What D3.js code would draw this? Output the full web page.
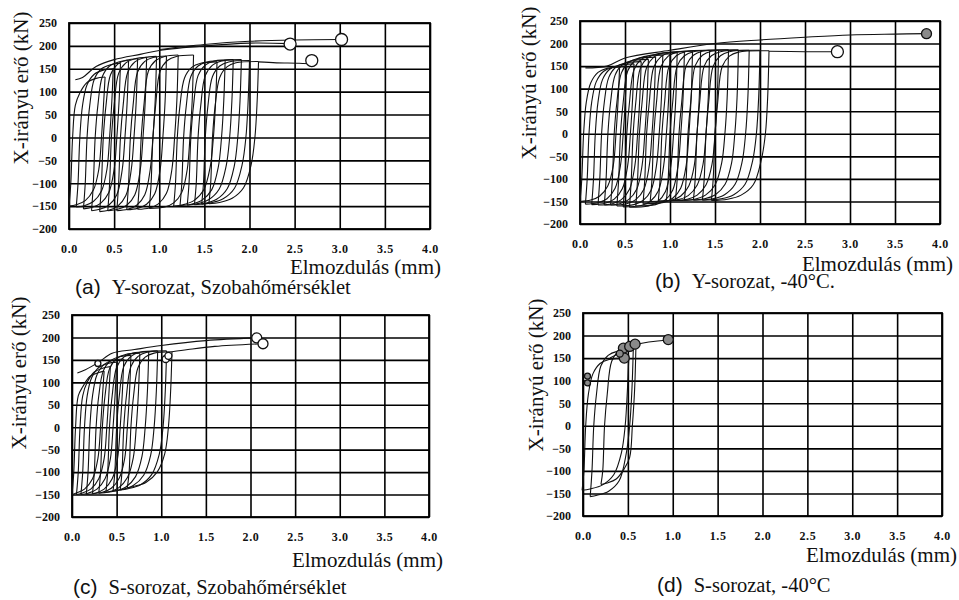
<!DOCTYPE html>
<html>
<head>
<meta charset="utf-8">
<script src="https://cdn.jsdelivr.net/npm/d3@7"></script>
<style>
  body { margin: 0; background: #fff; }
  svg { display: block; }
</style>
</head>
<body>
<div id="wrapper"></div>
<script>
// ---- data ----
const xTickValues = [0, 0.5, 1, 1.5, 2, 2.5, 3, 3.5, 4];
const xTickLabels = ["0.0", "0.5", "1.0", "1.5", "2.0", "2.5", "3.0", "3.5", "4.0"];
const yTickValues = [-200, -150, -100, -50, 0, 50, 100, 150, 200, 250];

const yTitle = "X-irányú erő (kN)";
const xTitles = ["Elmozdulás (mm)", "Elmozdulás (mm)", "Elmozdulás (mm)", "Elmozdulás (mm)"];
const captionLetters = ["(a)", "(b)", "(c)", "(d)"];
const captionTexts = ["Y-sorozat, Szobahőmérséklet", "Y-sorozat, -40°C.", "S-sorozat, Szobahőmérséklet", "S-sorozat, -40°C"];

// loops: [loading zero-crossing, unloading zero-crossing, peak force, min force, corner roundness]
const loopsA = [
  [0.04, 0.36, 132, -150, 1], [0.12, 0.45, 150, -152, 1], [0.20, 0.53, 162, -156, 1],
  [0.29, 0.62, 168, -160, 1], [0.38, 0.72, 172, -162, 1], [0.47, 0.82, 175, -160, 1],
  [0.57, 0.93, 177, -160, 1], [0.68, 1.04, 178, -158, 1], [0.80, 1.17, 180, -157, 1],
  [0.93, 1.34, 180, -155, 1],
  [1.20, 1.60, 165, -150, 1.2], [1.27, 1.69, 168, -149, 1.2], [1.35, 1.78, 170, -148, 1.3],
  [1.43, 1.87, 170, -147, 1.3], [1.51, 1.96, 168, -146, 1.4], [1.59, 2.06, 166, -145, 1.4]
];
const loopsB = [
  [0.04, 0.40, 148, -150, 1], [0.10, 0.48, 150, -156, 1], [0.17, 0.56, 155, -157, 1],
  [0.24, 0.64, 160, -158, 1], [0.31, 0.72, 165, -158, 1], [0.38, 0.80, 170, -158, 1],
  [0.45, 0.88, 174, -160, 1], [0.52, 0.96, 177, -162, 1], [0.59, 1.04, 180, -163, 1],
  [0.66, 1.12, 182, -160, 1], [0.74, 1.21, 183, -155, 1], [0.82, 1.30, 184, -150, 1],
  [0.91, 1.40, 185, -149, 1.1], [1.00, 1.50, 185, -148, 1.1], [1.10, 1.61, 186, -148, 1.2],
  [1.20, 1.72, 186, -147, 1.2], [1.30, 1.84, 185, -147, 1.3], [1.40, 1.96, 185, -147, 1.4],
  [1.50, 2.06, 184, -148, 1.5]
];
const loopsC = [
  [0.04, 0.32, 125, -150, 1], [0.09, 0.39, 135, -150, 1], [0.14, 0.46, 145, -150, 1],
  [0.20, 0.54, 152, -150, 1], [0.27, 0.62, 160, -148, 1], [0.34, 0.72, 165, -147, 1.1],
  [0.42, 0.82, 168, -145, 1.2], [0.50, 0.92, 170, -142, 1.3], [0.58, 1.02, 170, -140, 1.4],
  [0.66, 1.08, 168, -135, 1.4]
];
const loopsD = [
  [0.03, 0.47, 150, -143, 1.4], [0.12, 0.52, 168, -157, 1.3], [0.24, 0.55, 178, -130, 1]
];

// monotonic (skeleton) curves
const skeletonA = [
  [[0.07, 126], [0.15, 131], [0.3, 155], [0.5, 170], [0.8, 182], [1.0, 190], [1.5, 200], [2.0, 206], [2.45, 205]],
  [[1.0, 192], [1.5, 203], [2.0, 210], [2.5, 213], [3.0, 214]],
  [[2.1, 165], [2.3, 163], [2.55, 162], [2.75, 160]]
];
const skeletonB = [
  [[0.06, 146], [0.3, 150], [0.5, 168], [1.0, 185], [1.5, 200], [2.0, 208], [2.5, 214], [3.0, 219], [3.5, 221], [3.85, 222]],
  [[2.1, 183], [2.5, 182], [2.85, 182]]
];
const skeletonC = [
  [[0.06, 121], [0.15, 128], [0.3, 145], [0.45, 165], [0.7, 173], [1.0, 182], [1.5, 193], [2.07, 199]],
  [[1.12, 168], [1.3, 173], [1.6, 180], [2.13, 186]]
];
const skeletonD = [
  [[0.3, 150], [0.45, 165], [0.6, 180], [0.95, 190]]
];

// end markers: [x, y, radius, filled]
const markersA = [[2.45, 204, 6, 0], [3.02, 214, 6, 0], [2.69, 168, 6, 0]];
const markersB = [[2.86, 182, 6, 0], [3.85, 222, 5, 1]];
const markersC = [[2.07, 199, 5, 0], [2.14, 186, 5, 0], [0.29, 142, 3, 0], [1.05, 152, 3.5, 0], [1.08, 159, 3.5, 0]];
const markersD = [
  [0.05, 95, 3, 1], [0.05, 110, 3, 1], [0.45, 172, 5, 1], [0.52, 176, 5, 1],
  [0.58, 181, 5, 1], [0.46, 150, 5, 1], [0.41, 160, 3.5, 1], [0.95, 191, 5, 1]
];

// ---- layout ----
const panels = [
  { left: 69, right: 430, top: 23, bottom: 229, loops: loopsA, skel: skeletonA, marks: markersA,
    yTitle: [21, 88], xTitle: [441, 274], caption: [75, 294] },
  { left: 580, right: 940, top: 21, bottom: 224, loops: loopsB, skel: skeletonB, marks: markersB,
    yTitle: [529, 83], xTitle: [953, 271], caption: [655, 288] },
  { left: 72, right: 429, top: 315, bottom: 517, loops: loopsC, skel: skeletonC, marks: markersC,
    yTitle: [19, 373], xTitle: [443, 567], caption: [73, 594] },
  { left: 583, right: 942, top: 313, bottom: 516, loops: loopsD, skel: skeletonD, marks: markersD,
    yTitle: [536, 375], xTitle: [957, 562], caption: [657, 592] }
];

const serif = "'Liberation Serif', 'Times New Roman', serif";
const sans = "'Liberation Sans', Arial, sans-serif";

const svg = d3.select("#wrapper").append("svg")
  .attr("width", 959)
  .attr("height", 600);

panels.forEach((p, i) => {
  const w = p.right - p.left;
  const h = p.bottom - p.top;
  const g = svg.append("g").attr("transform", `translate(${p.left},${p.top})`);

  const xScale = d3.scaleLinear().domain([0, 4]).range([0, w]);
  const yScale = d3.scaleLinear().domain([-200, 250]).range([h, 0]);

  // grid + tick labels
  const xAxis = g.append("g")
    .attr("transform", `translate(0,${h})`)
    .call(d3.axisBottom(xScale)
      .tickValues(xTickValues)
      .tickFormat((d, k) => xTickLabels[k])
      .tickSize(-h)
      .tickPadding(15));
  const yAxis = g.append("g")
    .call(d3.axisLeft(yScale)
      .tickValues(yTickValues)
      .tickSize(-w)
      .tickPadding(12));

  [xAxis, yAxis].forEach(ax => {
    ax.select(".domain").remove();
    ax.selectAll("line").attr("stroke", "#000").attr("stroke-width", 1.6);
    ax.selectAll("text")
      .attr("fill", "#111")
      .style("font-family", serif)
      .style("font-weight", "bold")
      .style("font-size", "12px");
  });
  xAxis.selectAll("text").style("letter-spacing", "0.6px");

  g.append("rect")
    .attr("width", w).attr("height", h)
    .attr("fill", "none").attr("stroke", "#000").attr("stroke-width", 1.8);

  // hysteresis loops
  const line = d3.line()
    .x(d => xScale(d[0]))
    .y(d => yScale(d[1]))
    .curve(d3.curveCatmullRom.alpha(0.5));

  p.loops.forEach(([L, U, pk, tr, r]) => {
    const up = [[L - 0.04, tr], [L - 0.02, -100], [L, 0], [L + 0.03, 70], [L + 0.08, pk - 35],
                [L + 0.16, pk - 12], [L + 0.26, pk - 3], [U + 0.04, pk]];
    const down = [[U + 0.04, pk], [U + 0.025, 80], [U, 0], [U - 0.03 * r, -70 + 25 * (r - 1)],
                  [U - 0.09 * r, tr + 35], [U - 0.18 * r, tr + 12], [U - 0.28 * r, tr + 3], [L - 0.04, tr]];
    [up, down].forEach(pts => {
      g.append("path")
        .attr("d", line(pts))
        .attr("fill", "none")
        .attr("stroke", "#111")
        .attr("stroke-width", 1.1);
    });
  });

  p.skel.forEach(pts => {
    g.append("path")
      .attr("d", line(pts))
      .attr("fill", "none")
      .attr("stroke", "#111")
      .attr("stroke-width", 1.1);
  });

  g.selectAll(".mark")
    .data(p.marks)
    .enter().append("circle")
    .attr("class", "mark")
    .attr("cx", d => xScale(d[0]))
    .attr("cy", d => yScale(d[1]))
    .attr("r", d => d[2])
    .attr("fill", d => d[3] ? "#8a8a8a" : "#fff")
    .attr("stroke", "#111")
    .attr("stroke-width", 1.3);

  // titles
  svg.append("text")
    .attr("transform", `translate(${p.yTitle[0]},${p.yTitle[1]}) rotate(-90)`)
    .attr("text-anchor", "middle")
    .attr("dy", "0.35em")
    .style("font-family", serif)
    .style("font-size", "21px")
    .attr("fill", "#111")
    .text(yTitle);

  svg.append("text")
    .attr("x", p.xTitle[0])
    .attr("y", p.xTitle[1])
    .attr("text-anchor", "end")
    .style("font-family", serif)
    .style("font-size", "21px")
    .attr("fill", "#111")
    .text(xTitles[i]);

  const cap = svg.append("text")
    .attr("x", p.caption[0])
    .attr("y", p.caption[1])
    .attr("fill", "#111");
  cap.append("tspan")
    .style("font-family", sans)
    .style("font-size", "21px")
    .text(captionLetters[i]);
  cap.append("tspan")
    .attr("dx", 11)
    .style("font-family", serif)
    .style("font-size", "20.5px")
    .text(captionTexts[i]);
});
</script>
</body>
</html>
